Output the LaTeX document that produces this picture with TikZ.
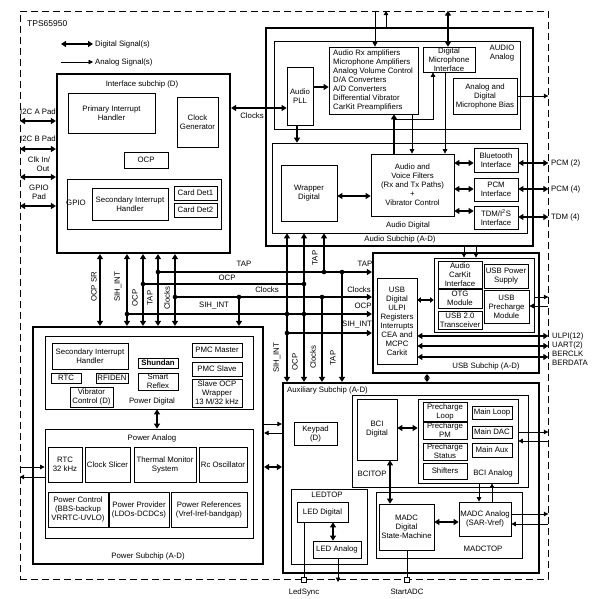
\documentclass[tikz,border=0pt]{standalone}
\usepackage{fontspec}
\setmainfont{Liberation Sans}
\usetikzlibrary{arrows.meta}
\newcommand\fs{\fontsize{7.8}{9}\selectfont}
\newcommand\bx[7][]{\node[blk,minimum width=#5pt-#3pt,minimum height=#6pt-#4pt,#1] (#2) at ({(#3+#5)/2},{(#4+#6)/2}) {#7};}
\tikzset{
 blk/.style={draw, line width=0.7pt, inner sep=0pt, align=center, font=\fs},
 sub/.style={line width=2.2pt},
 lbl/.style={inner sep=0pt, font=\fs, align=center},
 vlbl/.style={inner sep=0pt, font=\fs, rotate=90},
 dig/.style={line width=1.8pt, >={Triangle[length=5pt,width=6pt]}},
 digs/.style={line width=1.8pt, >={Triangle[length=3.6pt,width=5.5pt]}},
 ana/.style={line width=0.7pt, >={Triangle[length=4.5pt,width=4.5pt]}},
 dot/.style={circle, fill, inner sep=0pt, minimum size=4.6pt},
 pin/.style={draw, fill=white, line width=0.6pt, minimum size=5pt, inner sep=0pt}
}
\begin{document}
\begin{tikzpicture}[x=1pt,y=-1pt]
\useasboundingbox (0,0) rectangle (608,599);
% chip frame
\node[draw, dash pattern=on 7pt off 4pt, line width=0.7pt, minimum width=528pt, minimum height=568pt, inner sep=0pt] (chip) at (284,295) {};
\node[lbl, anchor=west, font=\fontsize{8.5}{10}\selectfont] (title) at (27,24) {TPS65950};
% legend
\coordinate (lgA1) at (61,44); \coordinate (lgA2) at (93,44);
\draw[dig,<->] (lgA1) -- (lgA2);
\node[lbl,anchor=west] (lgT1) at (95,44) {Digital Signal(s)};
\coordinate (lgB1) at (61,62); \coordinate (lgB2) at (93,62);
\draw[ana,->] (lgB1) -- (lgB2);
\node[lbl,anchor=west] (lgT2) at (95,62) {Analog Signal(s)};

% ---------------- Interface subchip
\bx[sub]{intf}{57}{74}{230}{253}{}
\node[lbl] (intfT) at (142,84) {Interface subchip (D)};
\bx{pih}{68}{93}{155}{133}{Primary Interrupt\\Handler}
\bx{clkgen}{177}{97}{218}{147}{Clock\\Generator}
\bx{ocp}{124}{152}{168}{168}{OCP}
\bx{gpio}{67}{179}{221}{229}{}
\node[lbl] (gpioT) at (76,203) {GPIO};
\bx{sih1}{92}{188}{168}{220}{Secondary Interrupt\\Handler}
\bx{cd1}{174}{186}{217}{200}{Card Det1}
\bx{cd2}{174}{203}{217}{217}{Card Det2}
% pads
\node[lbl] (padAT) at (38,112) {I2C A Pad};
\node[lbl] (padBT) at (38,139) {I2C B Pad};
\node[lbl] (padCT) at (39,164) {Clk In/\\\hspace*{8pt}Out};
\node[lbl] (padDT) at (39,192) {GPIO\\Pad};
\coordinate (padA) at (20,121); \coordinate (padB) at (20,149);
\coordinate (padC) at (20,177); \coordinate (padD) at (20,206);
\draw[dig,<->] (padA) -- (intf.west |- padA);
\draw[dig,<->] (padB) -- (intf.west |- padB);
\draw[dig,<->] (padC) -- (intf.west |- padC);
\draw[dig,<->] (padD) -- (intf.west |- padD);

% ---------------- Audio subchip
\bx[sub]{aud}{266}{28}{533}{246}{}
\node[lbl] (audT) at (400,239) {Audio Subchip (A-D)};
\bx{audana}{274}{41}{520}{129}{}
\node[lbl] (audanaT) at (502,53) {AUDIO\\Analog};
\bx{pll}{287}{67}{313}{125}{Audio\\PLL}
\bx{amp}{329}{47}{418}{114}{}
\node[lbl, anchor=west, align=left] (ampT) at (333,80) {Audio Rx amplifiers\\Microphone Amplifiers\\Analog Volume Control\\D/A Converters\\A/D Converters\\Differential Vibrator\\CarKit Preamplifiers};
\bx{dmic}{423}{47}{475}{72}{Digital\\Microphone\\Interface}
\bx{bias}{453}{78}{517}{114}{Analog and\\Digital\\Microphone Bias}
\bx{auddig}{272}{143}{527}{233}{}
\node[lbl] (auddigT) at (408,225) {Audio Digital};
\bx{wrap}{281}{165}{337}{221}{Wrapper\\Digital}
\bx{filt}{371}{154}{454}{216}{Audio and\\Voice Filters\\(Rx and Tx Paths)\\+\\Vibrator Control}
\bx{bt}{474}{148}{518}{172}{Bluetooth\\Interface}
\bx{pcm}{474}{178}{518}{201}{PCM\\Interface}
\bx{tdm}{474}{206}{518}{229}{TDM/I\textsuperscript{2}S\\Interface}
% audio connectors
\coordinate (clkY) at (0,108);
\draw[dig,<->] (intf.east |- clkY) -- (pll.west |- clkY);
\node[lbl] (clkT) at (252,116) {Clocks};
\draw[dig,->] (pll.east |- 0,87) -- (amp.west |- 0,87);
\draw[dig,->] (pll.south -| 297,0) -- (auddig.north -| 297,0);
\draw[ana,->] (amp.south -| 412,0) -- (filt.north -| 412,0);
\draw[dig,->] (filt.north -| 394,0) -- (amp.south -| 394,0);
\coordinate (brA) at (394,119);
\draw[ana,->] (brA) -| (dmic.south -| 433,0);
\draw[ana,->] (dmic.south -| 445,0) -- (filt.north -| 445,0);
\draw[ana,->] (chip.north -| 375,0) -- (amp.north -| 375,0);
\draw[ana,->] (aud.north -| 386,0) -- (chip.north -| 386,0);
\draw[dig,<->] (chip.north -| 448,0) -- (dmic.north -| 448,0);
\draw[ana,->] (bias.east |- 0,96) -- (chip.east |- 0,96);
\draw[dig,<->] (wrap.east |- 0,196) -- (filt.west |- 0,196);
\draw[dig,<->] (filt.east |- 0,163) -- (bt.west |- 0,163);
\draw[dig,<->] (filt.east |- 0,189) -- (pcm.west |- 0,189);
\draw[dig,<->] (filt.east |- 0,211) -- (tdm.west |- 0,211);
\draw[dig,<->] (bt.east |- 0,163) -- (chip.east |- 0,163);
\draw[dig,<->] (pcm.east |- 0,189) -- (chip.east |- 0,189);
\draw[dig,<->] (tdm.east |- 0,217) -- (chip.east |- 0,217);
\node[lbl,anchor=west] (pcm2T) at (551,163) {PCM (2)};
\node[lbl,anchor=west] (pcm4T) at (551,189) {PCM (4)};
\node[lbl,anchor=west] (tdm4T) at (551,217) {TDM (4)};

% ---------------- Power subchip
\bx[sub]{pow}{33}{327}{263}{564}{}
\node[lbl] (powT) at (148,556) {Power Subchip (A-D)};
\bx{pdig}{45}{336}{253}{409}{}
\node[lbl] (pdigT) at (152,401) {Power Digital};
\bx{sih2}{52}{343}{128}{369}{Secondary Interrupt\\Handler}
\bx{rtc}{51}{373}{81}{383}{RTC}
\bx{rfid}{96}{373}{128}{383}{RFIDEN}
\bx{vib}{70}{387}{113}{407}{Vibrator\\Control (D)}
\bx{shun}{138}{358}{178}{368}{\textbf{Shundan}}
\bx{smart}{138}{373}{178}{390}{Smart\\Reflex}
\bx{pmcm}{192}{343}{242}{357}{PMC Master}
\bx{pmcs}{192}{362}{242}{376}{PMC Slave}
\bx{socp}{192}{379}{242}{407}{Slave OCP\\Wrapper\\13 M/32 kHz}
\bx{pana}{45}{429}{253}{538}{}
\node[lbl] (panaT) at (152,438) {Power Analog};
\bx{rtc32}{48}{447}{82}{482}{RTC\\32 kHz}
\bx{cslice}{85}{447}{130}{482}{Clock Slicer}
\bx{therm}{134}{447}{196}{482}{Thermal Monitor\\System}
\bx{rcosc}{199}{447}{247}{482}{Rc Oscillator}
\bx{pctl}{48}{492}{108}{527}{Power Control\\(BBS-backup\\VRRTC-UVLO)}
\bx{pprov}{109}{492}{169}{527}{Power Provider\\(LDOs-DCDCs)}
\bx{pref}{171}{492}{247}{527}{Power References\\(Vref-Iref-bandgap)}
\draw[dig,<->] (pdig.south -| 157,0) -- (pana.north -| 157,0);
\draw[ana,->] (chip.west |- 0,467) -- (pana.west |- 0,467);
\draw[ana,->] (pana.west |- 0,477) -- (chip.west |- 0,477);

% ---------------- USB subchip
\bx[sub]{usb}{373}{253}{539}{373}{}
\node[lbl] (usbT) at (486,366) {USB Subchip (A-D)};
\bx{usbd}{377}{278}{417}{364}{USB\\Digital\\ULPI\\Registers\\Interrupts\\CEA and\\MCPC\\Carkit}
\bx{usbin}{434}{258}{534}{332}{}
\bx{ack}{438}{261}{482}{288}{Audio\\CarKit\\Interface}
\bx{otg}{438}{289}{482}{308}{OTG\\Module}
\bx{u20}{438}{311}{482}{329}{USB 2.0\\Transceiver}
\bx{ups}{484}{264}{528}{288}{USB Power\\Supply}
\bx{upre}{484}{290}{529}{323}{USB\\Precharge\\Module}
\draw[digs,<->] (usbd.east |- 0,300) -- (usbin.west |- 0,300);
\draw[ana,->] (usbin.east |- 0,297) -- (chip.east |- 0,297);
\draw[ana,->] (chip.east |- 0,306) -- (upre.east |- 0,306);
\draw[dig,<->] (usbd.east |- 0,336) -- (chip.east |- 0,336);
\draw[dig,<->] (usbd.east |- 0,346) -- (chip.east |- 0,346);
\draw[dig,<->] (usbd.east |- 0,357) -- (chip.east |- 0,357);
\node[lbl,anchor=west] (ulpiT) at (552,336) {ULPI(12)};
\node[lbl,anchor=west] (uartT) at (552,345) {UART(2)};
\node[lbl,anchor=west] (bclkT) at (552,354) {BERCLK};
\node[lbl,anchor=west] (bdatT) at (552,363) {BERDATA};
\draw[ana,->] (aud.south -| 464,0) -- (usbin.north -| 464,0);
\draw[ana,->] (aud.south -| 476,0) -- (usbin.north -| 476,0);

% ---------------- Auxiliary subchip
\bx[sub]{aux}{283}{383}{539}{573}{}
\node[lbl,anchor=west] (auxT) at (287,390) {Auxiliary Subchip (A-D)};
\bx{keypad}{294}{422}{337}{445}{Keypad\\(D)}
\bx{bcitop}{352}{395}{528}{487}{}
\node[lbl] (bcitopT) at (372,474) {BCITOP};
\bx{bcid}{357}{399}{397}{460}{BCI\\Digital}
\bx{bcia}{418}{399}{518}{483}{}
\node[lbl] (bciaT) at (493,473) {BCI Analog};
\bx{pl}{423}{402}{467}{421}{Precharge\\Loop}
\bx{ppm}{423}{422}{467}{439}{Precharge\\PM}
\bx{pst}{423}{443}{467}{460}{Precharge\\Status}
\bx{shif}{423}{463}{467}{479}{Shifters}
\bx{mloop}{472}{406}{512}{419}{Main Loop}
\bx{mdac}{472}{426}{512}{438}{Main DAC}
\bx{maux}{472}{443}{512}{457}{Main Aux}
\bx{ledtop}{291}{489}{367}{564}{}
\node[lbl] (ledtopT) at (327,495) {LEDTOP};
\bx{ledd}{297}{502}{348}{522}{LED Digital}
\bx{leda}{313}{541}{361}{558}{LED Analog}
\bx{madctop}{376}{492}{522}{558}{}
\node[lbl] (madctopT) at (483,549) {MADCTOP};
\bx{madcd}{379}{504}{434}{550}{MADC\\Digital\\State-Machine}
\bx{madca}{459}{502}{511}{536}{MADC Analog\\(SAR-Vref)}
\draw[dig,<->] (bcid.east |- 0,428) -- (bcia.west |- 0,428);
\draw[ana,->] (bcia.east |- 0,432) -- (chip.east |- 0,432);
\draw[ana,->] (chip.east |- 0,441) -- (bcia.east |- 0,441);
\draw[dig,<->] (bcid.south -| 390,0) -- (madcd.north -| 390,0);
\draw[ana,->] (bcia.south -| 479,0) -- (madca.north -| 479,0);
\draw[ana,->] (madca.north -| 492,0) -- (bcia.south -| 492,0);
\draw[dig,<->] (madcd.east |- 0,522) -- (madca.west |- 0,522);
\draw[ana,->] (madca.east |- 0,514) -- (chip.east |- 0,514);
\draw[ana,->] (chip.east |- 0,524) -- (madca.east |- 0,524);
\draw[dig,<->] (ledd.south -| 333,0) -- (leda.north -| 333,0);
\node[pin] (ledsync) at (304,580) {};
\node[pin] (startadc) at (407,580) {};
\draw[ana] (ledd.south -| ledsync) -- (ledsync.north);
\draw[ana] (madcd.south -| startadc) -- (startadc.north);
\coordinate (ledout) at (338,582);
\draw[ana,->] (leda.south -| ledout) -- (ledout);
\node[lbl] (ledsyncT) at (304,592) {LedSync};
\node[lbl] (startadcT) at (407,592) {StartADC};
% power <-> aux
\draw[dig,<->] (pow.east |- 0,467) -- (aux.west |- 0,467);
\draw[ana,->] (pow.east |- 0,424) -- (aux.west |- 0,424);
\draw[ana,->] (aux.west |- 0,433) -- (pow.east |- 0,433);
\draw[digs,<->] (usb.south -| 427,0) -- (aux.north -| 427,0);

% ---------------- buses
\draw[dig,<->] (intf.south -| 100,0) -- (pow.north -| 100,0);
\draw[dig,<->] (intf.south -| 127,0) -- (pow.north -| 127,0);
\draw[dig,<->] (intf.south -| 143,0) -- (pow.north -| 143,0);
\draw[dig,<->] (intf.south -| 158,0) -- (pow.north -| 158,0);
\draw[dig,<->] (intf.south -| 175,0) -- (pow.north -| 175,0);
\node[dot] (jT1) at (158,272) {};
\node[dot] (jT2) at (324,272) {};
\node[dot] (jT3) at (342,272) {};
\node[dot] (jO1) at (143,284) {};
\node[dot] (jO2) at (304,284) {};
\node[dot] (jC1) at (175,297) {};
\node[dot] (jC2) at (239,297) {};
\node[dot] (jC3) at (322,297) {};
\node[dot] (jS1) at (127,314) {};
\node[dot] (jS2) at (287,314) {};
\node[dot] (jS3) at (304,314) {};
\node[dot] (jS4) at (287,333) {};
\draw[dig,->] (jT1.center) -- (usb.west |- jT1);
\draw[dig] (jO1.center) -- (jO2.center);
\draw[dig,->] (jC1.center) -- (usb.west |- jC1);
\draw[dig,->] (jS1.center) -- (usb.west |- jS1);
\draw[dig,->] (jS4.center) -- (usb.west |- jS4);
\draw[dig,->] (jC2.center) -- (pow.north -| jC2);
\draw[dig,<->] (auddig.south -| 287,0) -- (aux.north -| 287,0);
\draw[dig,<->] (auddig.south -| 304,0) -- (aux.north -| 304,0);
\draw[dig,->] (jT2.center) -- (auddig.south -| jT2);
\draw[dig,->] (jC3.center) -- (aux.north -| jC3);
\draw[dig,->] (jT3.center) -- (aux.north -| jT3);
% bus labels
\node[vlbl] (vl1) at (94,287) {OCP SR};
\node[vlbl] (vl2) at (118,287) {SIH\_INT};
\node[vlbl] (vl3) at (135,298) {OCP};
\node[vlbl] (vl4) at (150,298) {TAP};
\node[vlbl] (vl5) at (167,298) {Clocks};
\node[vlbl] (vl6) at (315,258) {TAP};
\node[vlbl] (vl7) at (277,358) {SIH\_INT};
\node[vlbl] (vl8) at (295,362) {OCP};
\node[vlbl] (vl9) at (313,357) {Clocks};
\node[vlbl] (vl10) at (333,358) {TAP};
\node[lbl] (hl1) at (244,264) {TAP};
\node[lbl] (hl2) at (227,278) {OCP};
\node[lbl] (hl3) at (267,290) {Clocks};
\node[lbl] (hl4) at (214,306) {SIH\_INT};
\node[lbl] (hl5) at (365,264) {TAP};
\node[lbl] (hl6) at (359,290) {Clocks};
\node[lbl] (hl7) at (363,306) {OCP};
\node[lbl] (hl8) at (357,325) {SIH\_INT};
\end{tikzpicture}
\end{document}
